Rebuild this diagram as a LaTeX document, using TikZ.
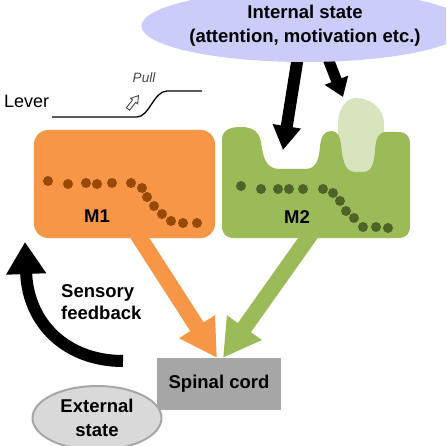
\documentclass[tikz,border=0pt]{standalone}
\usepackage{fontspec}
\setmainfont{Liberation Sans}
\usetikzlibrary{arrows.meta,shapes.geometric}
\pgfdeclarelayer{bg}
\pgfsetlayers{bg,main}
\definecolor{m1orange}{RGB}{247,150,70}
\definecolor{m1dot}{RGB}{152,72,7}
\definecolor{m2green}{RGB}{155,187,89}
\definecolor{m2light}{RGB}{215,228,189}
\definecolor{m2dot}{RGB}{79,98,40}
\definecolor{lav}{RGB}{204,204,250}
\definecolor{spgray}{RGB}{166,166,166}
\definecolor{extfill}{RGB}{217,217,217}
\definecolor{extline}{RGB}{166,166,166}
\definecolor{pullgray}{RGB}{70,70,70}
\begin{document}
\begin{tikzpicture}[x=1pt,y=-1pt,
  lbl/.style={font=\fontsize{18.5}{24}\selectfont\bfseries, text=black},
  dotA/.style={fill=m1dot},
  dotB/.style={fill=m2dot},
  fatarrow/.style={line width=#1}]
\clip (0,0) rectangle (446,446);
\begin{pgfonlayer}{bg}
\fill[white] (0,0) rectangle (446,446);
\end{pgfonlayer}

% internal state
\node[ellipse, fill=lav, minimum width=282pt, minimum height=72pt, inner sep=0pt, lbl, align=center] (int) at (305,26) {Internal state\\(attention, motivation etc.)};

% lever
\node[font=\fontsize{18}{20}\selectfont, anchor=west, inner sep=0pt] (lever) at (4,101) {Lever};
\draw[line width=1.3pt] (52,117) -- (137,117) .. controls (149,117) and (154,91) .. (167,91) -- (202,91);
\node[font=\fontsize{13.5}{15}\selectfont\itshape, text=pullgray] (pull) at (144,78) {Pull};
\begin{scope}[shift={(128,109)}, rotate=52]
\draw[fill=white, draw=pullgray, line width=0.9pt] (0,-2) -- (10,-2) -- (10,-4.5) -- (17,0) -- (10,4.5) -- (10,2) -- (0,2) -- cycle;
\end{scope}

% M1
\node[rectangle, rounded corners=14pt, fill=m1orange, minimum width=181pt, minimum height=108pt, inner sep=0pt] (m1) at (124.5,184) {};
\foreach \p in {(48,181),(68,184),(86,183),(97,184),(112,183),(131,183),(142,188),(147,197),(154,206),(162,214),(171,221),(183,223),(197,223)}
  \fill[dotA] \p circle (5pt);
\node[lbl] (m1t) at (97,216) {M1};

% M2: light bump behind, dark body with two notches in front
\fill[m2light] (338,176) -- (338,124) .. controls (338,110) and (345,98) .. (356,98)
  .. controls (370,98) and (384,108) .. (384,124) -- (384,176) -- cycle;
\fill[m2green] (222,226) -- (222,140) .. controls (222,130) and (230,127) .. (241,127)
  .. controls (253,127) and (259,132) .. (261,142) .. controls (263,158) and (266,169) .. (280,169)
  -- (305,169) .. controls (316,169) and (319,160) .. (320,146) .. controls (321,136) and (325,131) .. (331,131)
  .. controls (337,131) and (340,135) .. (341,145) .. controls (343,164) and (346,172) .. (356,172)
  -- (363,172) .. controls (371,172) and (374,165) .. (375,150) .. controls (376,137) and (379,132) .. (386,132)
  -- (398,132) .. controls (406,132) and (410,136) .. (410,144) -- (410,226)
  .. controls (410,234) and (406,238) .. (398,238) -- (234,238) .. controls (226,238) and (222,234) .. (222,226) -- cycle;
\foreach \p in {(241,186),(261,189),(278,189),(289,189),(303,189),(323,189),(333,193),(340,201),(346,211),(354,218),(363,227),(376,227),(388,228)}
  \fill[dotB] \p circle (5pt);
\node[lbl] (m2t) at (297,217) {M2};
\coordinate (m2out) at (315,228);
\coordinate (n1) at (283,150);
\coordinate (n2) at (343,97);

% spinal cord and external state
\node[rectangle, fill=spgray, minimum width=124pt, minimum height=52pt, inner sep=0pt, lbl] (spinal) at (219,384) {Spinal cord};
\node[ellipse, fill=extfill, draw=extline, line width=2pt, minimum width=129pt, minimum height=64pt, inner sep=0pt, lbl, align=center] (ext) at (97,418) {External\\state};

% sensory feedback
\coordinate (fbtail) at (123,361);
\coordinate (fbtip) at (25,242);
\draw[fatarrow=12pt, -{Triangle[length=32pt,width=38pt]}] (fbtail) .. controls (68,361) and (28,325) .. (fbtip);
\node[lbl, font=\fontsize{18.5}{22}\selectfont\bfseries, align=left, anchor=west, inner sep=0pt] (sf) at (61,302) {Sensory\\feedback};

\begin{pgfonlayer}{bg}
\draw[fatarrow=12pt, -{Triangle[length=24pt,width=27pt]}] ([xshift=-7pt,yshift=6pt]int.south) -- (n1);
\draw[fatarrow=11pt, -{Triangle[length=18pt,width=24pt]}] ([xshift=22pt,yshift=6pt]int.south) -- (n2);
\draw[m1orange, fatarrow=16pt, -{Triangle[length=37pt,width=40pt]}] ([xshift=9pt,yshift=10pt]m1.south) -- ([xshift=-2pt]spinal.north);
\draw[m2green, fatarrow=16pt, -{Triangle[length=37pt,width=40pt]}] (m2out) -- ([xshift=4pt]spinal.north);
\end{pgfonlayer}
\end{tikzpicture}
\end{document}
